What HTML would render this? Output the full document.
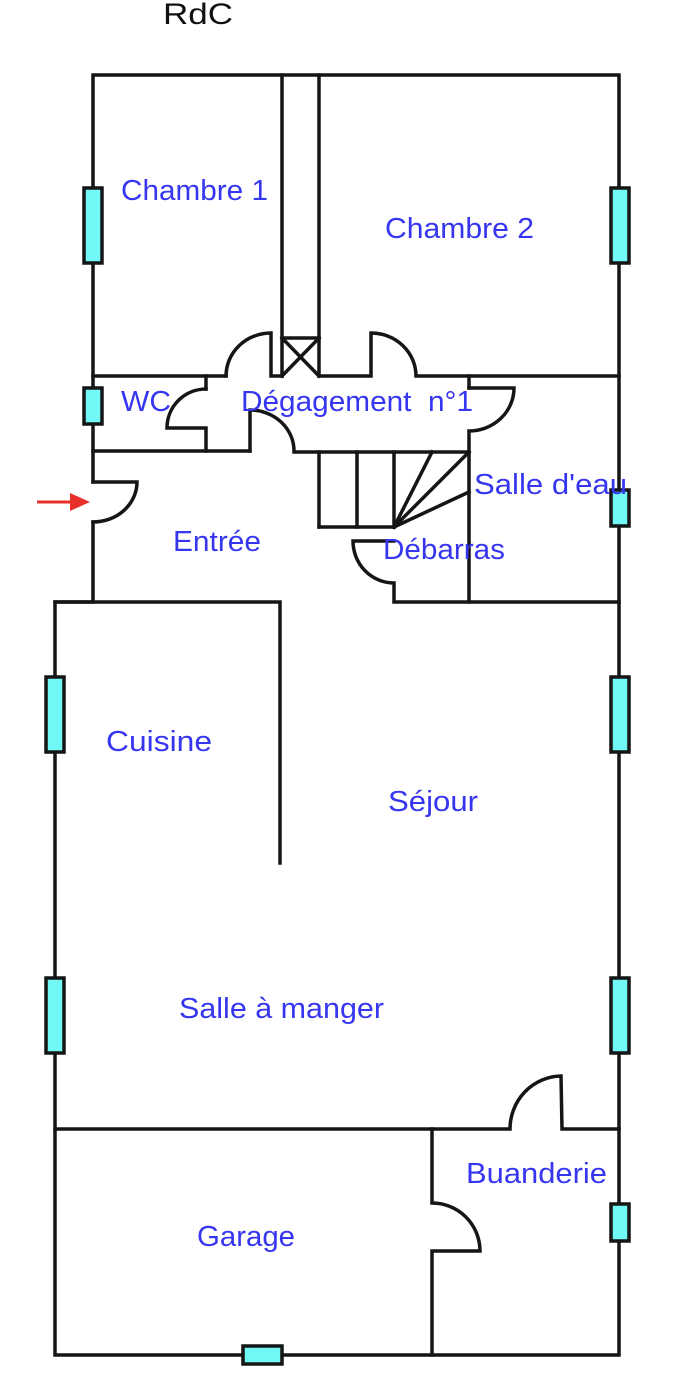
<!DOCTYPE html>
<html><head><meta charset="utf-8"><style>
html,body{margin:0;padding:0;background:#fff;}
svg{display:block;}
text{font-family:"Liberation Sans",Arial,sans-serif;fill:#3636f0;font-size:29px;}
</style></head><body>
<svg width="694" height="1396" viewBox="0 0 694 1396" xmlns="http://www.w3.org/2000/svg">
<g fill="none" stroke="#151515" stroke-width="3.5" stroke-linecap="square">
<polyline points="93,482 93,75 619,75 619,1355 55,1355 55,602 93,602 93,522"/>
<line x1="282" y1="75" x2="282" y2="376"/>
<line x1="319" y1="75" x2="319" y2="376"/>
<line x1="282" y1="338" x2="319" y2="338"/>
<line x1="282" y1="338" x2="319" y2="376"/>
<line x1="319" y1="338" x2="282" y2="376"/>
<line x1="93" y1="376" x2="226" y2="376"/>
<path d="M226,376 A45,43 0 0 1 271,333 L271,376 L282,376"/>
<path d="M319,376 L371,376 L371,333 A45,43 0 0 1 416,376 L619,376"/>
<line x1="206" y1="376" x2="206" y2="389"/>
<path d="M206,389 A39,39 0 0 0 167,428 L206,428 L206,451"/>
<line x1="93" y1="451" x2="250" y2="451"/>
<path d="M250,451 L250,410 A44,41 0 0 1 294,452 L469,452"/>
<line x1="469" y1="376" x2="469" y2="388"/>
<path d="M469,388 L514,388 A45,43 0 0 1 469,431 L469,602"/>
<path d="M93,482 L137,482 A44,40 0 0 1 93,522"/>
<line x1="319" y1="452" x2="319" y2="527"/>
<line x1="357" y1="452" x2="357" y2="527"/>
<line x1="394" y1="452" x2="394" y2="527"/>
<line x1="319" y1="527" x2="394" y2="527"/>
<line x1="394" y1="527" x2="432" y2="452"/>
<line x1="394" y1="527" x2="469" y2="452"/>
<line x1="394" y1="527" x2="469" y2="492"/>
<path d="M394,541 L353,541 A41,42 0 0 0 394,583 L394,602 L619,602"/>
<path d="M55,602 L280,602 L280,863"/>
<path d="M55,1129 L510,1129 A52,53 0 0 1 561,1076 L562,1129 L619,1129"/>
<path d="M432,1129 L432,1203 A48,48 0 0 1 480,1251 L432,1251 L432,1355"/>
</g>
<g fill="#72f7f7" stroke="#151515" stroke-width="3.5">
<rect x="84" y="188" width="18" height="75"/>
<rect x="611" y="188" width="18" height="75"/>
<rect x="84" y="388" width="18" height="36"/>
<rect x="611" y="490" width="18" height="36"/>
<rect x="46" y="677" width="18" height="75"/>
<rect x="611" y="677" width="18" height="75"/>
<rect x="46" y="978" width="18" height="75"/>
<rect x="611" y="978" width="18" height="75"/>
<rect x="611" y="1204" width="18" height="37"/>
<rect x="243" y="1346" width="39" height="18"/>
</g>
<line x1="37" y1="502" x2="74" y2="502" stroke="#e8302a" stroke-width="3"/>
<polygon points="90,502 70,493 70,511" fill="#e8302a"/>
<g>
<text x="163" y="24" style="fill:#111;font-size:30px" textLength="70" lengthAdjust="spacingAndGlyphs">RdC</text>
<text x="121" y="200" textLength="147" lengthAdjust="spacingAndGlyphs">Chambre 1</text>
<text x="385" y="238" textLength="149" lengthAdjust="spacingAndGlyphs">Chambre 2</text>
<text x="121" y="411" textLength="50" lengthAdjust="spacingAndGlyphs">WC</text>
<text x="241" y="411" textLength="232" lengthAdjust="spacingAndGlyphs" xml:space="preserve">Dégagement  n°1</text>
<text x="474" y="494" textLength="153" lengthAdjust="spacingAndGlyphs">Salle d'eau</text>
<text x="173" y="551" textLength="88" lengthAdjust="spacingAndGlyphs">Entrée</text>
<text x="383" y="559" textLength="122" lengthAdjust="spacingAndGlyphs">Débarras</text>
<text x="106" y="751" textLength="106" lengthAdjust="spacingAndGlyphs">Cuisine</text>
<text x="388" y="811" textLength="90" lengthAdjust="spacingAndGlyphs">Séjour</text>
<text x="179" y="1018" textLength="205" lengthAdjust="spacingAndGlyphs">Salle à manger</text>
<text x="466" y="1183" textLength="141" lengthAdjust="spacingAndGlyphs">Buanderie</text>
<text x="197" y="1246" textLength="98" lengthAdjust="spacingAndGlyphs">Garage</text>
</g>
</svg>
</body></html>
